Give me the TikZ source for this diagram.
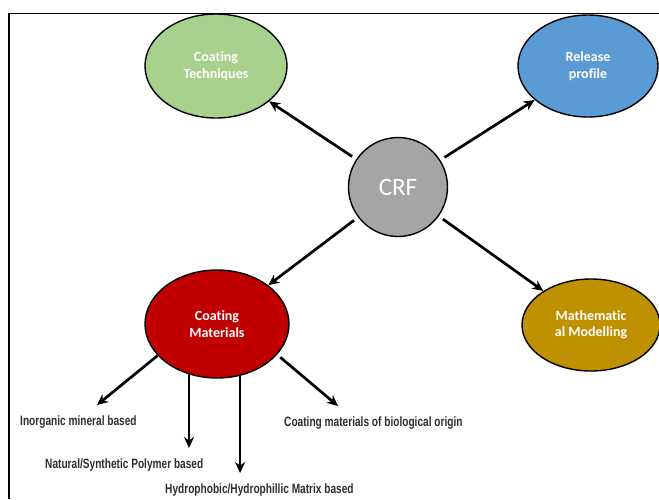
\documentclass[tikz,border=0pt]{standalone}
\usepackage{fontspec}
\setmainfont{Carlito}[Ligatures={NoCommon,NoRare}]
\newfontfamily\labfont{Liberation Sans}[FakeStretch=0.75]
\usetikzlibrary{shapes.geometric,arrows.meta}
\definecolor{cgreen}{HTML}{A9D18E}
\definecolor{cblue}{HTML}{5B9BD5}
\definecolor{cgray}{HTML}{A5A5A5}
\definecolor{cred}{HTML}{C00000}
\definecolor{cgold}{HTML}{BF9000}
\definecolor{labgray}{HTML}{2E2E2E}
\tikzset{
  bubble/.style={ellipse, draw=black, line width=1.4pt, inner sep=0pt, text=white,
    font=\fontsize{14}{16.5}\selectfont\bfseries, align=center},
  arr/.style={-{Stealth[length=11pt,width=10pt]}, line width=2.7pt},
  lab/.style={anchor=west, text=labgray, inner sep=0pt,
    font=\labfont\bfseries\fontsize{13.5}{15}\selectfont}
}
\begin{document}
\begin{tikzpicture}[x=1pt,y=-1pt]
\useasboundingbox (0,0) rectangle (659,499);
\fill[white] (0,0) rectangle (659,499);
\draw[line width=1.6pt] (659,13.5) -- (9,13.5) -- (9,499);

\node[bubble, fill=cgreen, minimum width=142pt, minimum height=104pt] (ct) at (216,66) {Coating\\Techniques};
\node[bubble, fill=cblue, minimum width=140pt, minimum height=102pt] (rp) at (588,66) {Release\\profile};
\node[circle, draw=black, line width=1.4pt, fill=cgray, minimum size=99pt, inner sep=0pt, text=white,
  font=\fontsize{25}{30}\selectfont] (crf) at (398,187) {CRF};
\node[bubble, fill=cred, minimum width=144pt, minimum height=108pt] (cm) at (217,324) {Coating\\Materials};
\node[bubble, fill=cgold, minimum width=138pt, minimum height=92pt] (mm) at (591,325) {Mathematic\\al Modelling};

\draw[arr, shorten <=5pt] (crf) -- (ct);
\draw[arr, shorten <=5pt] (crf) -- (rp);
\draw[arr, shorten <=5pt] (crf) -- (cm);
\draw[arr, shorten <=5pt] (crf) -- (mm);

\node[lab] (l1) at (20,422) {Inorganic mineral based};
\node[lab] (l2) at (45,465) {Natural/Synthetic Polymer based};
\node[lab] (l3) at (165,490) {Hydrophobic/Hydrophillic Matrix based};
\node[lab] (l4) at (284,423) {Coating materials of biological origin};

\coordinate (t1) at (97,405);
\coordinate (t2) at (189,448);
\coordinate (t3) at (240,473);
\coordinate (t4) at (338,406);
\draw[arr] (cm.208) -- (t1);
\draw[arr] (cm.241) -- (cm.241 |- t2);
\draw[arr] (cm.294) -- (cm.294 |- t3);
\draw[arr, shorten <=4pt] (cm.333) -- (t4);
\end{tikzpicture}
\end{document}
